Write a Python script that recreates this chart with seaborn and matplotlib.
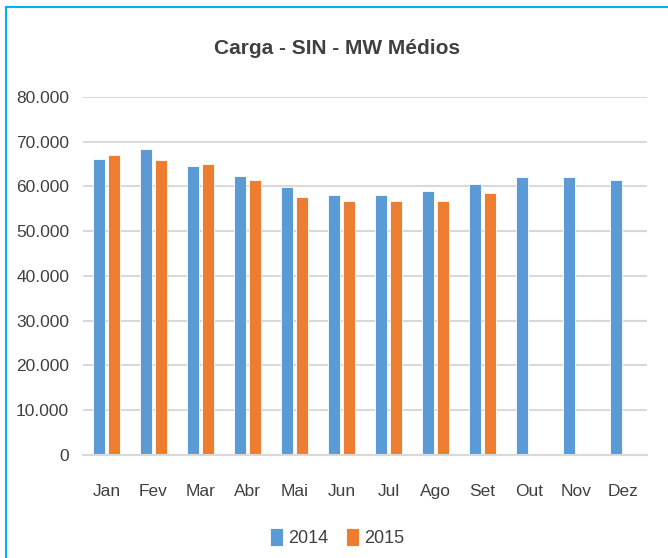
import matplotlib
matplotlib.use("Agg")
import matplotlib.pyplot as plt
import matplotlib.ticker as mticker
from matplotlib.patches import Rectangle
import seaborn as sns
import pandas as pd
import numpy as np

months = ["Jan", "Fev", "Mar", "Abr", "Mai", "Jun", "Jul", "Ago", "Set", "Out", "Nov", "Dez"]
vals_2014 = [66200, 68400, 64500, 62300, 59800, 58100, 58100, 59000, 60600, 62000, 62000, 61500]
vals_2015 = [67100, 65900, 65000, 61500, 57600, 56800, 56800, 56800, 58500, np.nan, np.nan, np.nan]
series = ["2014", "2015"]
colors = ["#5B9BD5", "#ED7D31"]

df = pd.DataFrame({
    "Mês": months * 2,
    "Ano": [series[0]] * 12 + [series[1]] * 12,
    "MW": vals_2014 + vals_2015,
})

sns.set_theme(style="white")
plt.rcParams["font.family"] = ["Liberation Sans Narrow", "Liberation Sans", "DejaVu Sans"]

fig = plt.figure(figsize=(6.68, 5.58), dpi=100)
ax = fig.add_axes([0.1243, 0.1846, 0.8443, 0.642])

sns.barplot(data=df, x="Mês", y="MW", hue="Ano", palette=colors, width=0.625, gap=0.18,
            ax=ax, legend=True, edgecolor="white", linewidth=0.6, saturation=1)

ax.set_ylim(0, 80000)
ax.set_xlim(-0.5, 11.5)
ax.yaxis.set_major_locator(mticker.MultipleLocator(10000))
ax.yaxis.set_major_formatter(mticker.FuncFormatter(lambda v, p: "0" if v == 0 else f"{int(v):,}".replace(",", ".")))
ax.grid(axis="y", color="#D9D9D9", linewidth=1.5)
ax.set_axisbelow(True)
for s in ["top", "right", "left"]:
    ax.spines[s].set_visible(False)
ax.spines["bottom"].set_color("#D9D9D9")
ax.spines["bottom"].set_linewidth(1.5)
ax.tick_params(axis="both", length=0, labelsize=12.5, colors="#404040", pad=10)
ax.tick_params(axis="x", pad=21)
ax.set_xlabel("")
ax.set_ylabel("")

fig.text(0.505, 0.913, "Carga - SIN - MW Médios", ha="center", va="center",
         fontsize=15, fontweight="bold", color="#404040")

handles, labels = ax.get_legend_handles_labels()
ax.legend_.remove()
fig.legend(handles, labels, loc="center", bbox_to_anchor=(0.505, 0.037), ncol=2, frameon=False,
           fontsize=13, handlelength=0.7, handleheight=1.2, handletextpad=0.3, columnspacing=1.0,
           labelcolor="#404040")

fig.patches.append(Rectangle((6 / 668, -0.1), 1.2, 1.1 - 7 / 558, transform=fig.transFigure,
                             fill=False, edgecolor="#00B0F0", linewidth=1.5))

fig.savefig("out.png", dpi=100)
